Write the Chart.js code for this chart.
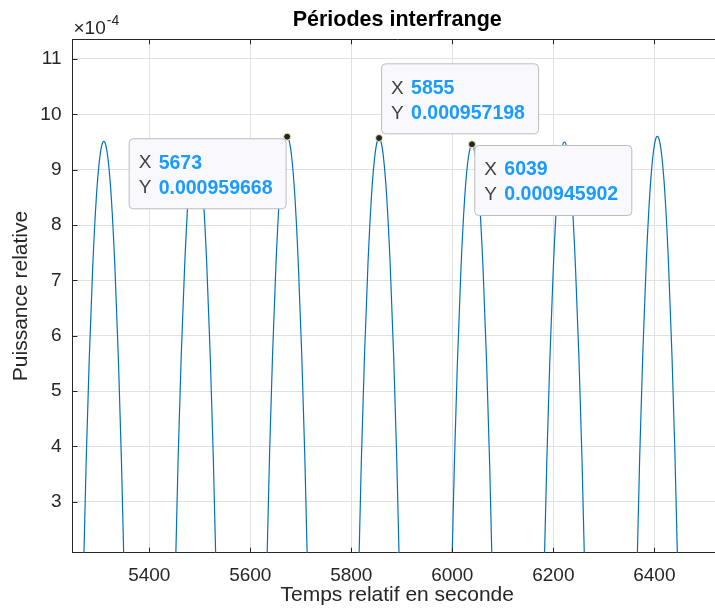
<!DOCTYPE html>
<html>
<head>
<meta charset="utf-8">
<script src="https://cdn.jsdelivr.net/npm/chart.js@4"></script>
<style>
  html, body { margin: 0; padding: 0; background: #fff; overflow: hidden; }
  #wrap { width: 740px; height: 616px; }
</style>
</head>
<body>
<div id="wrap"><canvas id="chart" width="740" height="616"></canvas></div>
<script>
// temps (s) et puissance relative, un lobe par ligne
const temps = [
  5266, 5270, 5275, 5281, 5288, 5295, 5301, 5306, 5310, 5314, 5319, 5325, 5332, 5339, 5345, 5350, 5354,
  5448, 5452, 5457, 5463, 5470, 5477, 5483, 5488, 5492, 5496, 5501, 5507, 5514, 5521, 5527, 5532, 5536,
  5629, 5633, 5638, 5644, 5651, 5658, 5664, 5669, 5673, 5677, 5682, 5688, 5695, 5702, 5708, 5713, 5717,
  5811, 5815, 5820, 5826, 5833, 5840, 5846, 5851, 5855, 5859, 5864, 5870, 5877, 5884, 5890, 5895, 5899,
  5995, 5999, 6004, 6010, 6017, 6024, 6030, 6035, 6039, 6043, 6048, 6054, 6061, 6068, 6074, 6079, 6083,
  6178, 6182, 6187, 6193, 6200, 6207, 6213, 6218, 6222, 6226, 6231, 6237, 6244, 6251, 6257, 6262, 6266,
  6362, 6366, 6371, 6377, 6384, 6391, 6397, 6402, 6406, 6410, 6415, 6421, 6428, 6435, 6441, 6446, 6450
];
const puissance = [
  0.11e-4, 1.81e-4, 3.71e-4, 5.54e-4, 7.23e-4, 8.47e-4, 9.14e-4, 9.44e-4, 9.51e-4, 9.44e-4, 9.14e-4, 8.47e-4, 7.23e-4, 5.54e-4, 3.71e-4, 1.81e-4, 0.11e-4,
  0.13e-4, 1.83e-4, 3.73e-4, 5.56e-4, 7.25e-4, 8.49e-4, 9.16e-4, 9.46e-4, 9.53e-4, 9.46e-4, 9.16e-4, 8.49e-4, 7.25e-4, 5.56e-4, 3.73e-4, 1.83e-4, 0.13e-4,
  0.20e-4, 1.90e-4, 3.80e-4, 5.63e-4, 7.32e-4, 8.56e-4, 9.23e-4, 9.52e-4, 0.000959668, 9.52e-4, 9.23e-4, 8.56e-4, 7.32e-4, 5.63e-4, 3.80e-4, 1.90e-4, 0.20e-4,
  0.17e-4, 1.87e-4, 3.77e-4, 5.60e-4, 7.29e-4, 8.53e-4, 9.20e-4, 9.50e-4, 0.000957198, 9.50e-4, 9.20e-4, 8.53e-4, 7.29e-4, 5.60e-4, 3.77e-4, 1.87e-4, 0.17e-4,
  0.06e-4, 1.76e-4, 3.66e-4, 5.49e-4, 7.18e-4, 8.42e-4, 9.09e-4, 9.38e-4, 0.000945902, 9.38e-4, 9.09e-4, 8.42e-4, 7.18e-4, 5.49e-4, 3.66e-4, 1.76e-4, 0.06e-4,
  0.10e-4, 1.80e-4, 3.70e-4, 5.53e-4, 7.22e-4, 8.46e-4, 9.13e-4, 9.43e-4, 9.50e-4, 9.43e-4, 9.13e-4, 8.46e-4, 7.22e-4, 5.53e-4, 3.70e-4, 1.80e-4, 0.10e-4,
  0.20e-4, 1.90e-4, 3.80e-4, 5.63e-4, 7.32e-4, 8.56e-4, 9.23e-4, 9.53e-4, 9.60e-4, 9.53e-4, 9.23e-4, 8.56e-4, 7.32e-4, 5.63e-4, 3.80e-4, 1.90e-4, 0.20e-4
];

const xTicks = [5400, 5600, 5800, 6000, 6200, 6400];
const yTicks = [3, 4, 5, 6, 7, 8, 9, 10, 11]; // x 10^-4

// curseurs de données (datatips)
const tipX = [5673, 5855, 6039];
const tipY = [0.000959668, 0.000957198, 0.000945902];

const titre = 'Périodes interfrange';
const xLabel = 'Temps relatif en seconde';
const yLabel = 'Puissance relative';

const FONT = "'Liberation Sans', Arial, Helvetica, sans-serif";
const AXIS = '#262626';
const GRID = '#e1e1e1';

// placement des boites par rapport au point (px)
const tipBox = [
  { dx: -158.5, dy: 1.6 },
  { dx: 2, dy: -74.7 },
  { dx: 2.3, dy: 0.7 }
];
const BOX_W = 157, BOX_H = 70;

function roundRect(ctx, x, y, w, h, r) {
  ctx.beginPath();
  ctx.moveTo(x + r, y);
  ctx.lineTo(x + w - r, y);
  ctx.arcTo(x + w, y, x + w, y + r, r);
  ctx.lineTo(x + w, y + h - r);
  ctx.arcTo(x + w, y + h, x + w - r, y + h, r);
  ctx.lineTo(x + r, y + h);
  ctx.arcTo(x, y + h, x, y + h - r, r);
  ctx.lineTo(x, y + r);
  ctx.arcTo(x, y, x + r, y, r);
  ctx.closePath();
}

const matlabLook = {
  id: 'matlabLook',
  afterDatasetDraw(chart, args) {
    if (args.index !== 1) return;
    const ctx = chart.ctx;
    const xs = chart.scales.x, ys = chart.scales.y;
    ctx.save();
    tipX.forEach((tx, i) => {
      const px = xs.getPixelForValue(tx);
      const py = ys.getPixelForValue(tipY[i]);
      const bx = px + tipBox[i].dx, by = py + tipBox[i].dy;
      roundRect(ctx, bx + 0.5, by + 0.5, BOX_W, BOX_H, 4);
      ctx.fillStyle = '#f9f9fd';
      ctx.fill();
      ctx.strokeStyle = '#bdbdbd';
      ctx.lineWidth = 1;
      ctx.stroke();
      ctx.textBaseline = 'middle';
      ctx.textAlign = 'left';
      ctx.fillStyle = '#404040';
      ctx.font = '19px ' + FONT;
      ctx.fillText('X', bx + 10, by + 25);
      ctx.fillText('Y', bx + 10, by + 50);
      ctx.fillStyle = '#1a9bff';
      ctx.font = 'bold 19.5px ' + FONT;
      ctx.fillText(String(tx), bx + 30, by + 25);
      ctx.fillText(String(tipY[i]), bx + 30, by + 50);
    });
    ctx.restore();
  },
  afterDraw(chart) {
    const ctx = chart.ctx;
    const a = chart.chartArea;
    const xs = chart.scales.x, ys = chart.scales.y;
    ctx.save();
    // cadre haut
    ctx.strokeStyle = AXIS;
    ctx.lineWidth = 1;
    ctx.beginPath();
    ctx.moveTo(a.left, Math.round(a.top) + 0.5);
    ctx.lineTo(a.right, Math.round(a.top) + 0.5);
    ctx.stroke();
    // graduations vers l'intérieur
    ctx.beginPath();
    xTicks.forEach(v => {
      const x = Math.round(xs.getPixelForValue(v)) + 0.5;
      ctx.moveTo(x, a.bottom); ctx.lineTo(x, a.bottom - 5);
      ctx.moveTo(x, a.top); ctx.lineTo(x, a.top + 5);
    });
    yTicks.forEach(v => {
      const y = Math.round(ys.getPixelForValue(v * 1e-4)) + 0.5;
      ctx.moveTo(a.left, y); ctx.lineTo(a.left + 5, y);
    });
    ctx.stroke();
    // titre
    ctx.fillStyle = '#000';
    ctx.font = 'bold 21.5px ' + FONT;
    ctx.textAlign = 'center';
    ctx.textBaseline = 'middle';
    ctx.fillText(titre, (a.left + a.right) / 2, 20);
    // multiplicateur
    ctx.fillStyle = AXIS;
    ctx.textAlign = 'left';
    ctx.textBaseline = 'alphabetic';
    ctx.font = '19px ' + FONT;
    ctx.fillText('\u00d710', a.left + 1, 33.5);
    const w = ctx.measureText('\u00d710').width;
    ctx.font = '14px ' + FONT;
    ctx.fillText('-4', a.left + 1 + w + 1, 25);
    ctx.restore();
  }
};

const points = temps.map((t, i) => ({ x: t, y: puissance[i] }));
const tips = tipX.map((t, i) => ({ x: t, y: tipY[i] }));

new Chart(document.getElementById('chart'), {
  type: 'line',
  data: {
    datasets: [
      {
        data: tips,
        showLine: false,
        pointRadius: 3.5,
        pointBackgroundColor: AXIS,
        pointBorderColor: '#f4efb8',
        pointBorderWidth: 1,
        order: 0
      },
      {
        data: points,
        borderColor: '#0072BD',
        borderWidth: 1.2,
        pointRadius: 0,
        cubicInterpolationMode: 'monotone',
        fill: false,
        order: 1
      }
    ]
  },
  options: {
    responsive: false,
    animation: false,
    layout: { padding: { top: 39.3, right: 18, left: 0, bottom: 0 } },
    plugins: {
      legend: { display: false },
      tooltip: { enabled: false },
      title: { display: false }
    },
    scales: {
      x: {
        type: 'linear',
        min: 5248,
        max: 6534,
        afterBuildTicks: s => { s.ticks = xTicks.map(v => ({ value: v })); },
        afterFit: s => { s.height = 63.3; },
        grid: { color: GRID, drawTicks: false },
        border: { color: AXIS, width: 1 },
        ticks: {
          color: AXIS,
          font: { family: FONT, size: 19 },
          padding: 12,
          maxRotation: 0,
          autoSkip: false,
          callback: v => String(v)
        },
        title: {
          display: true,
          text: xLabel,
          color: AXIS,
          font: { family: FONT, size: 21 },
          padding: { top: 0, bottom: 8.5 }
        }
      },
      y: {
        min: 2.078e-4,
        max: 11.356e-4,
        afterBuildTicks: s => { s.ticks = yTicks.map(v => ({ value: v * 1e-4 })); },
        afterFit: s => { s.width = 72.5; },
        grid: { color: GRID, drawTicks: false },
        border: { color: AXIS, width: 1 },
        ticks: {
          color: AXIS,
          font: { family: FONT, size: 19 },
          padding: 11,
          callback: v => String(Math.round(v * 1e4))
        },
        title: {
          display: true,
          text: yLabel,
          color: AXIS,
          font: { family: FONT, size: 21 },
          padding: { top: 8.2, bottom: 0 }
        }
      }
    }
  },
  plugins: [matlabLook]
});
</script>
</body>
</html>
